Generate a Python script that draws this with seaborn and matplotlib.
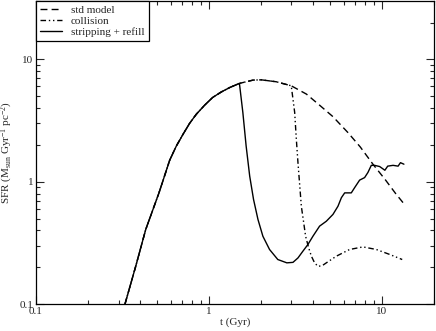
import matplotlib

matplotlib.use("Agg")
import matplotlib.pyplot as plt
import numpy as np
import pandas as pd
import seaborn as sns
from matplotlib.ticker import FuncFormatter, LogLocator, NullFormatter

# standard model SFR
t_std = [0.327, 0.377, 0.431, 0.514, 0.593, 0.648, 0.708, 0.773, 0.845,
         0.944, 1.05, 1.18, 1.32, 1.50, 1.80, 2.01, 2.45, 2.99, 3.66, 4.36,
         5.21, 6.36, 7.50, 8.87, 10.5, 12.0, 13.4]
sfr_std = [0.10, 0.203, 0.407, 0.81, 1.50, 1.96, 2.44, 3.00, 3.56,
           4.22, 4.88, 5.42, 5.89, 6.36, 6.77, 6.80, 6.56, 6.08, 5.20, 4.22,
           3.40, 2.52, 1.92, 1.39, 1.03, 0.80, 0.66]

# collision branch (leaves std model at t=3)
t_coll = [3.06, 3.13, 3.20, 3.27, 3.35, 3.42, 3.53, 3.62, 3.77, 3.91, 4.08,
          4.27, 4.52, 4.77, 5.45, 6.50, 7.77, 9.28, 11.1, 13.1]
sfr_coll = [4.73, 3.68, 2.22, 1.43, 0.92, 0.63, 0.461, 0.358, 0.288, 0.246,
            0.217, 0.203, 0.206, 0.217, 0.246, 0.279, 0.293, 0.279, 0.254,
            0.231]

# stripping + refill branch (leaves std model at t=1.5)
t_strip = [1.57, 1.64, 1.72, 1.81, 1.92, 2.05, 2.24, 2.50, 2.82, 3.06, 3.27,
           3.49, 3.73, 3.99, 4.36, 4.77, 5.21, 5.57, 5.83, 6.09, 6.65, 6.95,
           7.43, 7.94, 8.30, 8.68, 9.07, 9.70, 10.4, 10.8, 11.6, 12.4, 12.8,
           13.4]
sfr_strip = [3.68, 1.96, 1.11, 0.716, 0.491, 0.358, 0.279, 0.231, 0.217,
             0.219, 0.238, 0.270, 0.306, 0.358, 0.433, 0.475, 0.54, 0.63,
             0.74, 0.81, 0.81, 0.893, 1.03, 1.08, 1.19, 1.36, 1.36, 1.33,
             1.24, 1.34, 1.36, 1.34, 1.43, 1.39]

sns.set_style("ticks")
plt.rcParams["font.family"] = ["Liberation Serif", "DejaVu Serif"]
plt.rcParams["mathtext.default"] = "regular"
plt.rcParams["font.size"] = 8
plt.rcParams["axes.linewidth"] = 0.9
plt.rcParams["axes.edgecolor"] = "black"

t_std = np.array(t_std)
sfr_std = np.array(sfr_std)


def branch(t0, t_b, s_b):
    keep = t_std <= t0
    return np.concatenate([t_std[keep], t_b]), np.concatenate([sfr_std[keep], s_b])


tc, sc = branch(3.0, t_coll, sfr_coll)
ts, ss = branch(1.5, t_strip, sfr_strip)

df_std = pd.DataFrame({"t": t_std, "sfr": sfr_std})
df_coll = pd.DataFrame({"t": tc, "sfr": sc})
df_strip = pd.DataFrame({"t": ts, "sfr": ss})

fig, ax = plt.subplots(figsize=(4.36, 3.31), dpi=100)
fig.subplots_adjust(left=36 / 436, right=434 / 436, bottom=1 - 304 / 331, top=1 - 1 / 331)

sns.lineplot(data=df_std, x="t", y="sfr", ax=ax, color="k", lw=1.0,
             linestyle=(0, (5, 3)), label="std model", estimator=None, sort=False)
sns.lineplot(data=df_coll, x="t", y="sfr", ax=ax, color="k", lw=1.0,
             linestyle=(0, (4, 2, 1, 2, 1, 2)), label="collision", estimator=None, sort=False)
sns.lineplot(data=df_strip, x="t", y="sfr", ax=ax, color="k", lw=1.0,
             linestyle="-", label="stripping + refill", estimator=None, sort=False)

ax.set_xscale("log")
ax.set_yscale("log")
ax.set_xlim(0.1, 20)
ax.set_ylim(0.1, 30)

fmt = FuncFormatter(lambda v, p: "%g" % v)
for axis in (ax.xaxis, ax.yaxis):
    axis.set_major_locator(LogLocator(base=10, numticks=10))
    axis.set_minor_locator(LogLocator(base=10, subs=np.arange(2, 10), numticks=10))
    axis.set_major_formatter(fmt)
    axis.set_minor_formatter(NullFormatter())

ax.tick_params(which="both", direction="in", top=True, right=True, labelsize=8,
               width=0.8, pad=2)
ax.tick_params(which="major", length=6)
ax.tick_params(which="minor", length=3)

ax.set_xlabel("t (Gyr)", fontsize=8, labelpad=1)
ax.set_ylabel("SFR (M$_{sun}$ Gyr$^{-1}$ pc$^{-2}$)", fontsize=8, labelpad=3)

leg = ax.legend(loc="upper left", borderaxespad=0, fancybox=False, framealpha=1,
                edgecolor="black", fontsize=8, handlelength=2.0, borderpad=0.35,
                labelspacing=0.12)
leg.get_frame().set_linewidth(0.9)

fig.savefig("out.png", dpi=100)
plt.close("all")
